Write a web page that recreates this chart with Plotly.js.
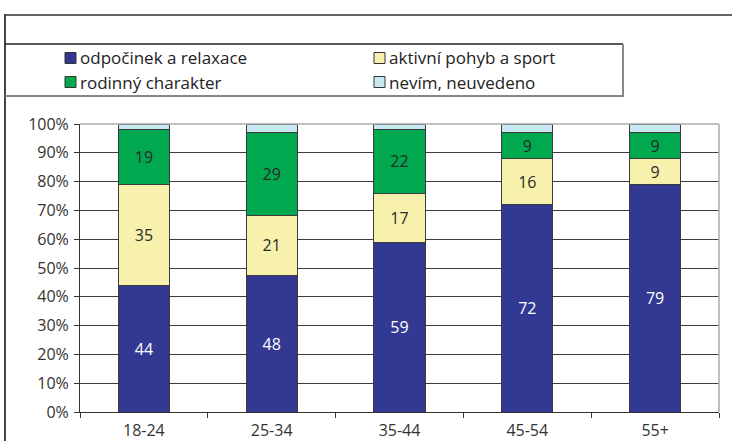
<!DOCTYPE html>
<html>
<head>
<meta charset="utf-8">
<script src="https://cdn.plot.ly/plotly-3.0.1.min.js"></script>
<style>
html,body{margin:0;padding:0;background:#fff;}
#chart{width:732px;height:441px;}
</style>
</head>
<body>
<div id="chart"></div>
<script>
// ---- data ----
const categories = ['18-24', '25-34', '35-44', '45-54', '55+'];
const seriesNames = ['odpočinek a relaxace', 'aktivní pohyb a sport', 'rodinný charakter', 'nevím, neuvedeno'];
const odpocinek = [44, 48, 59, 72, 79];
const aktivni = [35, 21, 17, 16, 9];
const rodinny = [19, 29, 22, 9, 9];
const nevim = [2, 3, 2, 3, 3];
const yTickValues = [0, 10, 20, 30, 40, 50, 60, 70, 80, 90, 100];

// ---- styles ----
const colors = ['#333893', '#F8F1AE', '#00A94F', '#C9E9F1'];
const textColors = ['#ffffff', '#2a2a2a', '#2a2a2a', '#2a2a2a'];
const showText = [true, true, true, false];
const FONT = '"Open Sans", "Noto Sans", sans-serif';

const W = 732, H = 441;
const M = {l: 80, r: 13, t: 124, b: 29};
const PW = W - M.l - M.r, PH = H - M.t - M.b;
const px = x => (x - M.l) / PW;
const py = y => (H - M.b - y) / PH;

const allSeries = [odpocinek, aktivni, rodinny, nevim];
const traces = allSeries.map((vals, i) => ({
  type: 'bar',
  name: seriesNames[i],
  x: categories,
  y: vals,
  text: vals.map(v => String(v)),
  texttemplate: showText[i] ? '%{text}' : '',
  textposition: showText[i] ? 'inside' : 'none',
  insidetextanchor: 'middle',
  textangle: 0,
  constraintext: 'none',
  insidetextfont: {family: FONT, size: 16, color: textColors[i]},
  marker: {color: colors[i], line: {color: '#3a3a3a', width: 1}},
  hoverinfo: 'skip'
}));

// frame + legend box lines (decoration)
const shapes = [
  {type: 'line', xref: 'paper', yref: 'paper', x0: px(5), x1: px(733), y0: py(15), y1: py(15), line: {color: '#666', width: 2}},
  {type: 'line', xref: 'paper', yref: 'paper', x0: px(5), x1: px(5), y0: py(14), y1: py(442), line: {color: '#444', width: 2}},
  {type: 'line', xref: 'paper', yref: 'paper', x0: px(5), x1: px(623), y0: py(44), y1: py(44), line: {color: '#222', width: 1.5}},
  {type: 'line', xref: 'paper', yref: 'paper', x0: px(5), x1: px(624), y0: py(96), y1: py(96), line: {color: '#888', width: 2}},
  {type: 'line', xref: 'paper', yref: 'paper', x0: px(623), x1: px(623), y0: py(44), y1: py(96), line: {color: '#888', width: 2}},
  {type: 'line', xref: 'paper', yref: 'paper', x0: 0, x1: 1, y0: 1, y1: 1, line: {color: '#aaa', width: 1.5}},
  {type: 'line', xref: 'paper', yref: 'paper', x0: 1, x1: 1, y0: 0, y1: 1, line: {color: '#aaa', width: 1.5}}
];

// manual legend (two columns, two rows)
const legendCols = [65, 374];
const legendRows = [58, 82];
const annotations = [];
seriesNames.forEach((name, i) => {
  const cx = legendCols[i % 2], cy = legendRows[Math.floor(i / 2)];
  shapes.push({type: 'rect', xref: 'paper', yref: 'paper',
    x0: px(cx), x1: px(cx + 11), y0: py(cy - 5.5), y1: py(cy + 5.5),
    fillcolor: colors[i], line: {color: '#333', width: 1}});
  annotations.push({xref: 'paper', yref: 'paper', x: px(cx + 13), y: py(cy),
    xanchor: 'left', yanchor: 'middle', showarrow: false, text: name,
    font: {family: FONT, size: 17, color: '#222'}});
});

const layout = {
  width: W, height: H,
  margin: M,
  paper_bgcolor: '#fff', plot_bgcolor: '#fff',
  barmode: 'stack', barnorm: 'percent',
  bargap: 0.6,
  showlegend: false,
  hovermode: false,
  font: {family: FONT, size: 16, color: '#333'},
  xaxis: {
    type: 'category',
    showgrid: false,
    showline: true, linecolor: '#333', linewidth: 1,
    ticks: 'outside', tickson: 'boundaries', ticklen: 5, tickcolor: '#333',
    ticklabelstandoff: 4,
    tickfont: {family: FONT, size: 16, color: '#333'},
    fixedrange: true
  },
  yaxis: {
    range: [0, 100],
    tickvals: yTickValues,
    ticktext: yTickValues.map(v => v + '%'),
    showgrid: true, gridcolor: '#3c3c3c', gridwidth: 1,
    showline: true, linecolor: '#333', linewidth: 1,
    ticks: 'outside', ticklen: 5, tickcolor: '#333',
    ticklabelstandoff: 2,
    tickfont: {family: FONT, size: 16, color: '#333'},
    zeroline: false,
    fixedrange: true
  },
  shapes: shapes,
  annotations: annotations
};

Plotly.newPlot('chart', traces, layout, {displayModeBar: false, staticPlot: true});
</script>
</body>
</html>
